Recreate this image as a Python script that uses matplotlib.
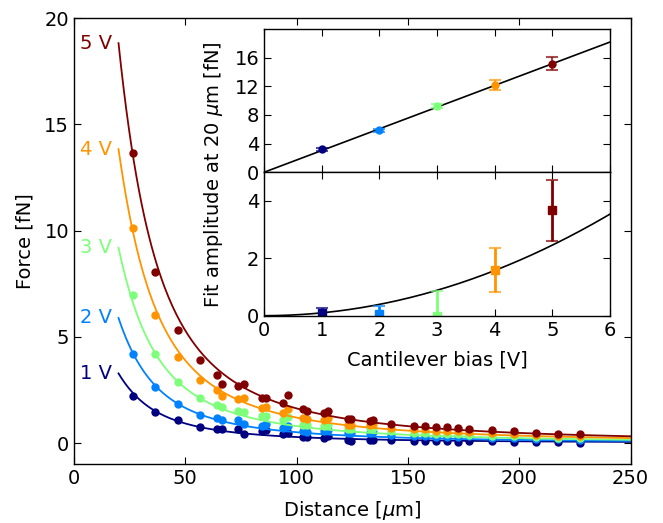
import numpy as np
import matplotlib
matplotlib.use("Agg")
import matplotlib.pyplot as plt
import matplotlib.cm as cm

# bias voltages and fit amplitudes (inset)
volts = [1, 2, 3, 4, 5]
ampLin = [3.20, 5.84, 9.22, 12.24, 15.16]
ampLinErr = [0.25, 0.22, 0.25, 0.70, 0.88]
ampQuad = [0.08, 0.05, -0.02, 1.60, 3.67]
ampQuadErr = [0.18, 0.29, 0.87, 0.76, 1.07]
linSlope = 3.03
quadCoef = 0.0984

# shape parameters of the distance fit
fitD0 = 16.7
fitExp = 0.9

# measured force vs distance
distance = [26.5, 36.6, 46.6, 56.6, 64.2, 66.4, 73.8, 76.4, 84.3, 86.4, 94.0,
            96.3, 102.7, 104.5, 112.5, 114.3, 123.0, 124.3, 132.8, 134.3,
            142.5, 152.6, 157.6, 162.8, 167.6, 172.6, 177.5, 187.6, 197.6,
            207.5, 217.5, 227.5]
force1 = [2.24, 1.48, 1.11, 0.78, 0.68, 0.68, 0.64, 0.45, 0.56, 0.60, 0.45,
          0.48, 0.29, 0.27, 0.26, 0.35, 0.16, 0.10, 0.16, 0.16, 0.13, 0.10,
          0.08, 0.10, 0.08, 0.06, 0.08, 0.09, 0.06, 0.05, 0.04, 0.01]
force2 = [4.21, 2.64, 1.86, 1.34, 1.19, 1.11, 1.07, 0.92, 0.79, 0.92, 0.72,
          0.79, 0.56, 0.54, 0.56, 0.60, 0.48, 0.46, 0.48, 0.50, 0.40, 0.32,
          0.33, 0.30, 0.30, 0.30, 0.32, 0.26, 0.22, 0.20, 0.17, 0.15]
force3 = [6.96, 4.21, 2.86, 2.13, 1.81, 1.70, 1.53, 1.45, 1.29, 1.27, 1.11,
          1.23, 0.87, 0.84, 0.80, 0.84, 0.67, 0.65, 0.72, 0.70, 0.56, 0.48,
          0.48, 0.43, 0.42, 0.41, 0.40, 0.35, 0.31, 0.27, 0.24, 0.22]
force4 = [10.11, 6.05, 4.06, 2.99, 2.49, 2.20, 2.09, 2.13, 1.66, 1.69, 1.42,
          1.61, 1.19, 1.15, 1.11, 1.18, 0.87, 0.85, 0.87, 0.88, 0.72, 0.64,
          0.64, 0.59, 0.57, 0.56, 0.53, 0.48, 0.44, 0.38, 0.34, 0.33]
force5 = [13.64, 8.04, 5.34, 3.93, 3.22, 2.80, 2.71, 2.77, 2.13, 2.13, 1.89,
          2.25, 1.61, 1.50, 1.42, 1.50, 1.15, 1.12, 1.06, 1.10, 0.90, 0.82,
          0.82, 0.77, 0.74, 0.70, 0.67, 0.60, 0.56, 0.48, 0.43, 0.43]
forces = [force1, force2, force3, force4, force5]

plt.rcParams['font.size'] = 14
plt.rcParams['xtick.direction'] = 'in'
plt.rcParams['ytick.direction'] = 'in'
plt.rcParams['xtick.top'] = True
plt.rcParams['ytick.right'] = True
plt.rcParams['xtick.major.size'] = 5
plt.rcParams['ytick.major.size'] = 5
plt.rcParams['axes.linewidth'] = 1.0
plt.rcParams['mathtext.fontset'] = 'dejavusans'

colors = [cm.jet(i / 4.0) for i in range(5)]


def shape(d):
    d = np.asarray(d, dtype=float)
    return ((1 + (20 / fitD0) ** 2) / (1 + (d / fitD0) ** 2)) ** fitExp


fig = plt.figure(figsize=(6.63, 5.23), dpi=100)
ax = fig.add_axes([0.1116, 0.1122, 0.8395, 0.8528])

dFit = np.linspace(20, 250, 400)
for i in range(5):
    amp = ampLin[i] + ampQuad[i]
    ax.plot(dFit, amp * shape(dFit), '-', color=colors[i], lw=1.3)
    ax.plot(distance, forces[i], 'o', color=colors[i], ms=5, mec=colors[i])
    ax.text(17, amp, '%d V' % volts[i], color=colors[i], ha='right', va='center')

ax.set_xlim(0, 250)
ax.set_ylim(-1, 20)
ax.set_xticks([0, 50, 100, 150, 200, 250])
ax.set_yticks([0, 5, 10, 15, 20])
ax.set_xlabel(r'Distance [$\mu$m]', labelpad=8)
ax.set_ylabel('Force [fN]', labelpad=7)

# inset: linear and quadratic amplitudes
axTop = fig.add_axes([0.3982, 0.6706, 0.5219, 0.2740])
axBot = fig.add_axes([0.3982, 0.3964, 0.5219, 0.2742])

vFit = np.linspace(0, 6, 200)
axTop.plot(vFit, linSlope * vFit, 'k-', lw=1.2)
axBot.plot(vFit, quadCoef * vFit ** 2, 'k-', lw=1.2)
for i in range(5):
    eb = axTop.errorbar(volts[i], ampLin[i], yerr=ampLinErr[i], fmt='o', color=colors[i],
                        ms=5, capsize=4, elinewidth=1.5, capthick=1.5)
    for art in eb[1] + eb[2]:
        art.set_alpha(0.7)
    eb = axBot.errorbar(volts[i], ampQuad[i], yerr=ampQuadErr[i], fmt='s', color=colors[i],
                        ms=6, capsize=4, elinewidth=2, capthick=1.5)
    for art in eb[1]:
        art.set_alpha(0.7)

axTop.set_xlim(0, 6)
axTop.set_ylim(0, 20)
axTop.set_yticks([0, 4, 8, 12, 16])
axTop.set_xticks(range(7))
axTop.set_xticklabels([])
axBot.set_xlim(0, 6)
axBot.set_ylim(0, 5)
axBot.set_yticks([0, 2, 4])
axBot.set_xticks(range(7))
axBot.set_xlabel('Cantilever bias [V]', labelpad=8)

fig.text(0.322, 0.665, r'Fit amplitude at 20 $\mu$m [fN]', rotation=90,
         ha='center', va='center')

fig.savefig('out.png', dpi=100)
